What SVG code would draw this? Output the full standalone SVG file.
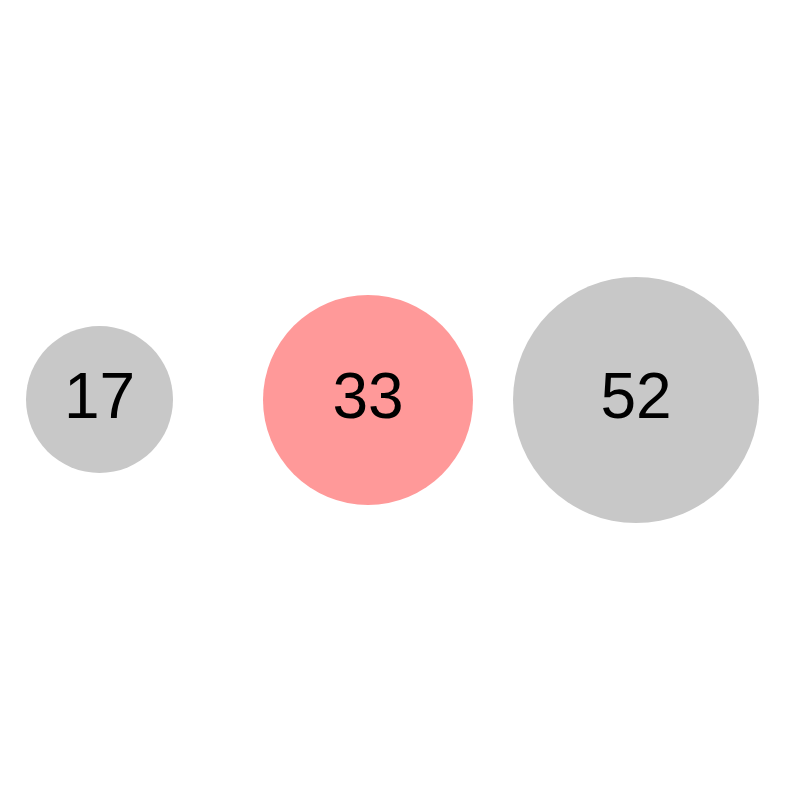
<svg xmlns="http://www.w3.org/2000/svg" width="800" height="800" viewBox="0 0 800 800">
<style>
.lbl{font-family:"Liberation Sans",Arial,sans-serif;font-size:64px;fill:#000;text-anchor:middle}
.g{fill:#c8c8c8}
.p{fill:#ff9999}
</style>
<rect width="800" height="800" fill="#fff"/>
<g id="connectors"></g>
<g id="node17"><circle class="g" cx="99.5" cy="399.5" r="73.5"/><text class="lbl" x="99.5" y="418">17</text></g>
<g id="node33"><circle class="p" cx="368" cy="400" r="105"/><text class="lbl" x="368" y="418">33</text></g>
<g id="node52"><circle class="g" cx="636" cy="400" r="123"/><text class="lbl" x="636" y="418">52</text></g>
</svg>
